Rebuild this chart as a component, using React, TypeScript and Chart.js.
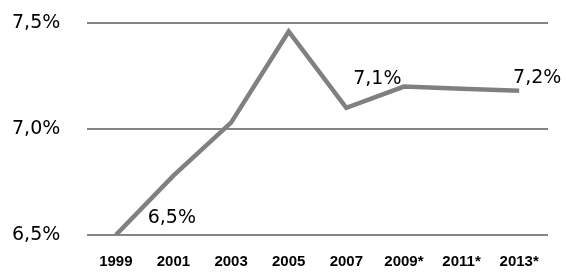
import React, { useEffect, useRef } from "react";
import { Chart, registerables } from "chart.js";

Chart.register(...registerables);

const categories = ["1999", "2001", "2003", "2005", "2007", "2009*", "2011*", "2013*"];
const rates = [6.5, 6.78, 7.03, 7.46, 7.1, 7.2, 7.19, 7.18];
const pointLabels = ["6,5%", "", "", "", "7,1%", "", "", "7,2%"];
const yTicks = [6.5, 7.0, 7.5];

const labelPlugin = {
  id: "pointLabels",
  afterDatasetsDraw(chart: any) {
    const meta = chart.getDatasetMeta(0);
    const ctx = chart.ctx;
    ctx.save();
    ctx.font = "19px 'DejaVu Sans'";
    ctx.fillStyle = "#000";
    ctx.textAlign = "center";
    ctx.textBaseline = "middle";
    const offsets: Record<number, [number, number]> = {
      0: [56, -17],
      4: [31, -29],
      7: [18, -13],
    };
    pointLabels.forEach((t, i) => {
      if (!t) return;
      const el = meta.data[i];
      const o = offsets[i] || [0, -15];
      ctx.fillText(t, el.x + o[0], el.y + o[1]);
    });
    ctx.restore();
  },
};

export default function App() {
  const ref = useRef<HTMLCanvasElement>(null);
  useEffect(() => {
    document.body.style.margin = "0";
    const chart = new Chart(ref.current!, {
      type: "line",
      data: {
        labels: categories,
        datasets: [
          {
            data: rates,
            borderColor: "#808080",
            borderWidth: 4.5,
            pointRadius: 0,
            tension: 0,
            fill: false,
          },
        ],
      },
      options: {
        animation: false,
        responsive: false,
        maintainAspectRatio: false,
        layout: { padding: { top: 23, right: 18, left: 12, bottom: 0 } },
        plugins: { legend: { display: false }, tooltip: { enabled: false } },
        scales: {
          x: {
            offset: true,
            grid: { display: false, drawTicks: false },
            border: { display: false },
            ticks: {
              color: "#000",
              font: { family: "'Liberation Sans'", size: 15, weight: "bold" },
              padding: 18,
              maxRotation: 0,
              autoSkip: false,
            },
            afterFit(scale: any) {
              scale.height = 44;
            },
          },
          y: {
            min: 6.5,
            max: 7.5,
            afterBuildTicks(scale: any) {
              scale.ticks = yTicks.map((v) => ({ value: v }));
            },
            grid: { color: "#858585", lineWidth: 2, drawTicks: false },
            border: { display: false },
            ticks: {
              color: "#000",
              font: { family: "'DejaVu Sans'", size: 19 },
              padding: 3,
              crossAlign: "far",
              callback: (v: any) => Number(v).toFixed(1).replace(".", ",") + "%",
            },
            afterFit(scale: any) {
              scale.width = 75;
            },
          },
        },
      },
      plugins: [labelPlugin],
    });
    return () => chart.destroy();
  }, []);
  return (
    <div style={{ position: "absolute", left: 0, top: 0, width: 566, height: 279, background: "#fff" }}>
      <canvas ref={ref} width={566} height={279} />
    </div>
  );
}
